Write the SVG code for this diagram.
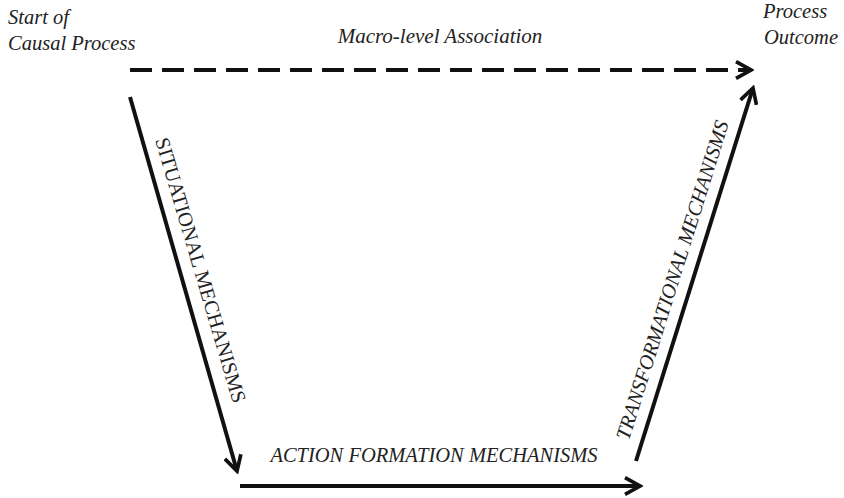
<svg xmlns="http://www.w3.org/2000/svg" width="844" height="498" viewBox="0 0 844 498">
<style>
.c{fill:none;stroke:#111;stroke-width:4}
</style>
<defs>
<marker id="ah" viewBox="0 0 12 12" refX="10" refY="6" markerWidth="5" markerHeight="5" orient="auto" markerUnits="strokeWidth">
<path d="M1,1 L10,6 L1,11" fill="none" stroke="#111" stroke-width="2.2"/>
</marker>
</defs>
<rect width="844" height="498" fill="#fff"/>
<g id="start"><text font-family="Liberation Serif" font-size="20.5" fill="#222" font-style="italic" x="8" y="24">Start of</text><text font-family="Liberation Serif" font-size="20.5" fill="#222" font-style="italic" x="8" y="50">Causal Process</text></g>
<g id="outcome"><text font-family="Liberation Serif" font-size="20.5" fill="#222" font-style="italic" x="763" y="18">Process</text><text font-family="Liberation Serif" font-size="20.5" fill="#222" font-style="italic" x="764" y="44">Outcome</text></g>
<g id="labels">
<text font-family="Liberation Serif" font-size="21" fill="#222" font-style="italic" x="440" y="43" text-anchor="middle">Macro-level Association</text>
<text font-family="Liberation Serif" font-size="20.5" fill="#222" transform="translate(201,270) rotate(73.5)" text-anchor="middle" dy="0.35em">SITUATIONAL MECHANISMS</text>
<text font-family="Liberation Serif" font-size="20.5" fill="#222" font-style="italic" x="434" y="462" text-anchor="middle">ACTION FORMATION MECHANISMS</text>
<text font-family="Liberation Serif" font-size="20.5" fill="#222" font-style="italic" transform="translate(672,280) rotate(-72.5)" text-anchor="middle" dy="0.35em">TRANSFORMATIONAL MECHANISMS</text>
</g>
<g id="connectors">
<line class="c" x1="130" y1="70" x2="751" y2="70" stroke-dasharray="22,10" marker-end="url(#ah)"/>
<line class="c" x1="130" y1="97" x2="237" y2="471" marker-end="url(#ah)"/>
<line class="c" x1="240" y1="486" x2="640" y2="486" marker-end="url(#ah)"/>
<line class="c" x1="636" y1="461" x2="753" y2="88" marker-end="url(#ah)"/>
</g>
</svg>
